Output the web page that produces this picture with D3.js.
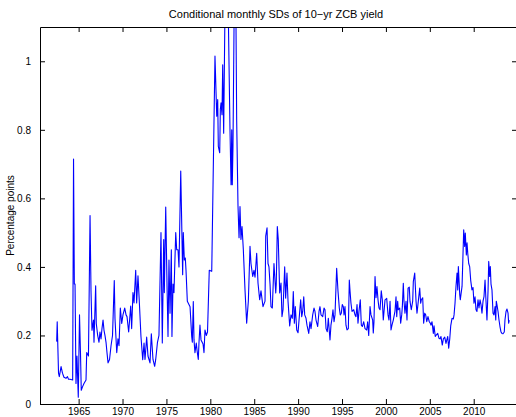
<!DOCTYPE html>
<html><head><meta charset="utf-8">
<script src="https://cdn.jsdelivr.net/npm/d3@7"></script>
<style>
html,body{margin:0;padding:0;background:#fff;overflow:hidden;}
text{font-family:"Liberation Sans",Arial,Helvetica,sans-serif;fill:#000;}
</style></head>
<body>
<svg id="chart" width="516" height="417"></svg>
<script>
const title = "Conditional monthly SDs of 10\u2212yr ZCB yield";
const yLabel = "Percentage points";
const xTicks = [1965,1970,1975,1980,1985,1990,1995,2000,2005,2010];
const yTicks = [0,0.2,0.4,0.6,0.8,1];
const xDomain = [1960.6, 2014.93];
const yDomain = [0, 1.1];

const years = [
1962.50,1962.56,1962.71,1962.80,1963.00,1963.16,1963.33,1963.56,1963.73,1963.85,1964.02,1964.32,1964.42,1964.51,1964.59,1964.70,1964.81,1964.96,1965.10,1965.21,
1965.30,1965.44,1965.61,1965.84,1965.92,1966.12,1966.30,1966.41,1966.52,1966.69,1966.75,1966.94,1967.01,1967.17,1967.32,1967.43,1967.55,1967.66,1967.78,1967.89,
1968.00,1968.12,1968.23,1968.35,1968.52,1968.69,1968.86,1969.06,1969.14,1969.34,1969.48,1969.60,1969.75,1969.91,1970.05,1970.25,1970.40,1970.51,1970.70,1970.93,
1971.04,1971.19,1971.31,1971.50,1971.61,1971.76,1971.91,1972.10,1972.30,1972.45,1972.56,1972.75,1972.90,1973.13,1973.28,1973.47,1973.66,1973.78,1973.98,1974.15,
1974.38,1974.53,1974.69,1974.76,1974.92,1975.07,1975.18,1975.29,1975.41,1975.56,1975.63,1975.75,1975.86,1976.06,1976.17,1976.32,1976.43,1976.63,1976.85,1976.92,
1977.04,1977.15,1977.23,1977.38,1977.69,1977.88,1977.95,1978.06,1978.14,1978.25,1978.40,1978.48,1978.63,1978.71,1978.82,1978.94,1979.17,1979.28,1979.39,1979.54,
1979.68,1979.88,1980.16,1980.53,1980.73,1980.84,1980.91,1981.07,1981.14,1981.22,1981.33,1981.41,1981.52,1981.73,1981.90,1982.01,1982.24,1982.36,1982.44,1982.50,
1982.58,1982.75,1982.87,1983.00,1983.15,1983.27,1983.38,1983.49,1983.61,1983.76,1983.95,1984.14,1984.33,1984.52,1984.63,1984.83,1984.97,1985.09,1985.28,1985.43,
1985.62,1985.77,1986.00,1986.23,1986.31,1986.46,1986.57,1986.68,1986.80,1986.91,1987.06,1987.25,1987.45,1987.51,1987.63,1987.74,1987.90,1988.05,1988.16,1988.28,
1988.47,1988.58,1988.73,1988.85,1989.04,1989.19,1989.34,1989.45,1989.57,1989.68,1989.84,1989.99,1990.18,1990.29,1990.41,1990.52,1990.64,1990.75,1990.90,1991.01,
1991.21,1991.35,1991.47,1991.66,1991.81,1991.92,1992.04,1992.23,1992.38,1992.49,1992.61,1992.80,1992.95,1993.06,1993.18,1993.32,1993.44,1993.63,1993.74,1993.86,
1993.97,1994.09,1994.20,1994.39,1994.54,1994.69,1994.80,1994.92,1995.03,1995.15,1995.23,1995.34,1995.45,1995.57,1995.72,1995.83,1995.91,1996.02,1996.14,1996.33,
1996.48,1996.59,1996.71,1996.82,1996.93,1997.08,1997.20,1997.31,1997.47,1997.62,1997.81,1997.92,1998.04,1998.19,1998.30,1998.49,1998.56,1998.64,1998.76,1998.87,
1998.98,1999.10,1999.21,1999.33,1999.47,1999.59,1999.70,1999.90,2000.09,2000.24,2000.35,2000.47,2000.58,2000.69,2000.84,2001.03,2001.15,2001.23,2001.34,2001.41,
2001.57,2001.68,2001.80,2001.87,2001.98,2002.06,2002.17,2002.29,2002.40,2002.52,2002.66,2002.74,2002.89,2003.05,2003.12,2003.28,2003.43,2003.54,2003.69,2003.85,
2003.96,2004.03,2004.19,2004.30,2004.42,2004.53,2004.65,2004.79,2004.94,2005.05,2005.13,2005.25,2005.40,2005.48,2005.62,2005.70,2005.90,2006.04,2006.16,2006.27,
2006.42,2006.54,2006.70,2006.84,2007.04,2007.15,2007.27,2007.38,2007.53,2007.68,2007.76,2007.87,2007.98,2008.10,2008.18,2008.25,2008.41,2008.47,2008.55,2008.67,
2008.75,2008.86,2008.97,2009.04,2009.16,2009.24,2009.32,2009.43,2009.54,2009.66,2009.80,2009.92,2010.03,2010.15,2010.26,2010.37,2010.49,2010.60,2010.72,2010.83,
2010.94,2011.06,2011.17,2011.29,2011.40,2011.51,2011.63,2011.71,2011.82,2011.89,2011.97,2012.08,2012.20,2012.31,2012.43,2012.51,2012.57,2012.65,2012.77,2012.88,
2012.99,2013.11,2013.22,2013.34,2013.48,2013.56,2013.68,2013.79,2013.91,2013.98,2014.05
];
const sds = [
0.182,0.240,0.090,0.080,0.109,0.090,0.078,0.075,0.080,0.072,0.072,0.070,0.715,0.350,0.350,0.060,0.140,0.020,0.260,0.150,
0.040,0.050,0.060,0.070,0.150,0.140,0.550,0.330,0.215,0.245,0.180,0.345,0.235,0.200,0.180,0.210,0.190,0.220,0.245,0.215,
0.200,0.180,0.150,0.120,0.130,0.170,0.200,0.360,0.250,0.150,0.190,0.170,0.280,0.235,0.260,0.280,0.260,0.255,0.210,0.286,
0.220,0.325,0.295,0.390,0.295,0.374,0.300,0.197,0.129,0.178,0.130,0.195,0.140,0.120,0.205,0.130,0.110,0.130,0.180,0.200,
0.500,0.178,0.480,0.325,0.575,0.343,0.197,0.420,0.265,0.450,0.197,0.350,0.325,0.500,0.450,0.450,0.400,0.680,0.377,0.500,
0.420,0.426,0.390,0.300,0.284,0.197,0.180,0.299,0.187,0.150,0.178,0.158,0.130,0.180,0.230,0.187,0.175,0.150,0.216,0.200,
0.210,0.390,0.387,1.015,0.840,0.888,0.752,0.733,0.860,0.879,0.844,0.990,0.790,1.300,1.250,1.200,0.800,0.640,0.800,0.640,
0.750,1.250,1.300,0.830,0.580,0.485,0.576,0.480,0.518,0.450,0.333,0.236,0.300,0.460,0.410,0.372,0.390,0.370,0.440,0.353,
0.304,0.330,0.284,0.300,0.490,0.514,0.410,0.400,0.350,0.284,0.280,0.410,0.324,0.350,0.518,0.480,0.324,0.353,0.255,0.275,
0.400,0.309,0.382,0.300,0.228,0.260,0.250,0.328,0.236,0.284,0.216,0.208,0.270,0.304,0.255,0.270,0.313,0.260,0.250,0.230,
0.206,0.240,0.220,0.260,0.280,0.270,0.245,0.226,0.270,0.284,0.260,0.255,0.280,0.275,0.220,0.211,0.250,0.187,0.230,0.250,
0.275,0.240,0.260,0.396,0.330,0.280,0.260,0.265,0.290,0.284,0.260,0.284,0.230,0.216,0.220,0.362,0.330,0.294,0.270,0.275,
0.260,0.255,0.290,0.236,0.270,0.304,0.230,0.226,0.240,0.220,0.216,0.240,0.200,0.284,0.260,0.245,0.207,0.240,0.372,0.310,
0.343,0.304,0.280,0.275,0.330,0.304,0.245,0.304,0.308,0.260,0.245,0.300,0.216,0.230,0.245,0.270,0.313,0.255,0.300,0.275,
0.280,0.236,0.260,0.284,0.352,0.300,0.265,0.300,0.245,0.338,0.341,0.300,0.275,0.300,0.357,0.382,0.300,0.265,0.300,0.338,
0.294,0.304,0.310,0.236,0.265,0.260,0.240,0.255,0.240,0.236,0.230,0.240,0.206,0.228,0.197,0.200,0.206,0.192,0.190,0.197,
0.172,0.190,0.195,0.177,0.197,0.163,0.190,0.228,0.250,0.248,0.260,0.294,0.343,0.382,0.333,0.401,0.318,0.304,0.320,0.343,
0.411,0.508,0.460,0.499,0.435,0.470,0.440,0.410,0.401,0.360,0.333,0.340,0.294,0.313,0.275,0.270,0.304,0.280,0.304,0.290,
0.265,0.300,0.313,0.362,0.300,0.245,0.330,0.416,0.372,0.401,0.350,0.333,0.265,0.260,0.284,0.245,0.300,0.289,0.270,0.245,
0.226,0.210,0.206,0.205,0.210,0.245,0.270,0.277,0.265,0.236,0.245
];

const L = 40, R = 517, T = 27, B = 404;
const svg = d3.select("#chart");
const x = d3.scaleLinear().domain(xDomain).range([L, R]);
const y = d3.scaleLinear().domain(yDomain).range([B, T]);

svg.append("defs").append("clipPath").attr("id","clip")
  .append("rect").attr("x",L).attr("y",T).attr("width",R-L).attr("height",B-T);

const data = years.map((yr,i)=>[yr, sds[i]]);
svg.append("path").datum(data)
  .attr("clip-path","url(#clip)")
  .attr("fill","none").attr("stroke","#0000ff").attr("stroke-width",1.1)
  .attr("stroke-linejoin","round")
  .attr("d", d3.line().x(d=>x(d[0])).y(d=>y(d[1])));

const tl = 5;
const fmtY = d => d===0 ? "0" : d===1 ? "1" : d3.format(".1f")(d);

const gB = svg.append("g").attr("transform",`translate(0,${B})`)
  .call(d3.axisBottom(x).tickValues(xTicks).tickFormat(d3.format("d")).tickSizeInner(-tl).tickSizeOuter(0).tickPadding(4.3));
const gT = svg.append("g").attr("transform",`translate(0,${T})`)
  .call(d3.axisTop(x).tickValues(xTicks).tickFormat("").tickSizeInner(-tl).tickSizeOuter(0));
const gL = svg.append("g").attr("transform",`translate(${L},0)`)
  .call(d3.axisLeft(y).tickValues(yTicks).tickFormat(fmtY).tickSizeInner(-tl).tickSizeOuter(0).tickPadding(9));
const gR = svg.append("g").attr("transform",`translate(${R},0)`)
  .call(d3.axisRight(y).tickValues(yTicks).tickFormat("").tickSizeInner(-tl).tickSizeOuter(0));

[gB,gT,gL,gR].forEach(g=>{
  g.selectAll("path.domain").attr("stroke","#000").attr("stroke-width",1);
  g.selectAll(".tick line").attr("stroke","#000").attr("stroke-width",1);
  g.selectAll("text").attr("font-size","10px").attr("fill","#000")
    .attr("font-family","'Liberation Sans',Arial,sans-serif");
});

svg.append("text").attr("x",276).attr("y",18).attr("text-anchor","middle")
  .attr("font-size","11px").text(title);
svg.append("text").attr("transform",`translate(14,${(T+B)/2}) rotate(-90)`)
  .attr("text-anchor","middle").attr("font-size","10px").text(yLabel);
</script>
</body></html>
